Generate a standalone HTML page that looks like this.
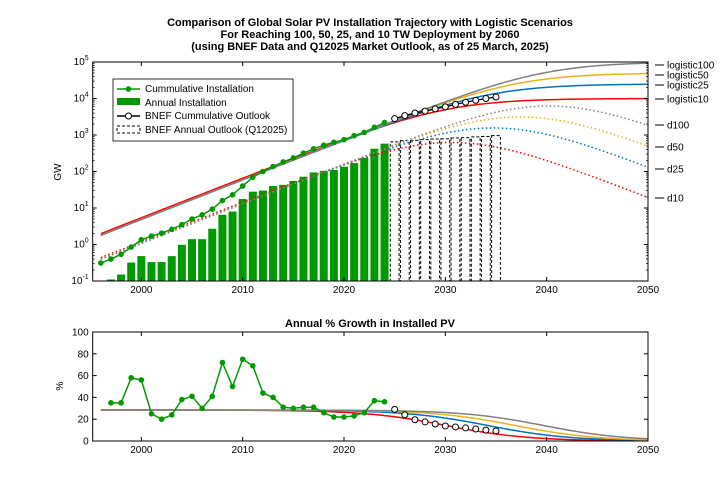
<!DOCTYPE html>
<html><head><meta charset="utf-8"><style>
body{margin:0;background:#fff;}
svg{display:block;font-family:"Liberation Sans",Arial,sans-serif;}
</style></head><body>
<svg id="chart" width="720" height="504" viewBox="0 0 720 504">
<g font-weight="bold" font-size="11" text-anchor="middle" fill="#000">
<text x="370" y="26">Comparison of Global Solar PV Installation Trajectory with Logistic Scenarios</text>
<text x="370" y="38">For Reaching 100, 50, 25, and 10 TW Deployment by 2060</text>
<text x="370" y="50">(using BNEF Data and Q12025 Market Outlook, as of 25 March, 2025)</text>
</g>
<g id="topG"></g>
<g id="botG"></g>
</svg>
<script>
const years = [1996,1997,1998,1999,2000,2001,2002,2003,2004,2005,2006,2007,2008,2009,2010,2011,2012,2013,2014,2015,2016,2017,2018,2019,2020,2021,2022,2023,2024];
const cumulative = [0.31,0.4,0.54,0.85,1.35,1.7,2.05,2.6,3.5,5,6.5,9.3,16,23,40,70,100,137,183,235,318,418,525,633,745,960,1180,1620,2190];
const barYears = [1997,1998,1999,2000,2001,2002,2003,2004,2005,2006,2007,2008,2009,2010,2011,2012,2013,2014,2015,2016,2017,2018,2019,2020,2021,2022,2023,2024];
const annual = [0.11,0.15,0.32,0.48,0.33,0.33,0.48,0.98,1.4,1.4,2.7,6.5,8,17.6,28,30,40,43,55,72,94,104,110,135,170,235,420,580];
const outYears = [2025,2026,2027,2028,2029,2030,2031,2032,2033,2034,2035];
const outCumulative = [2800,3400,4000,4500,5200,5900,6900,7900,8900,10000,11000];
const outAnnual = [650,700,710,745,775,790,830,850,890,910,960];
const growthYears = [1997,1998,1999,2000,2001,2002,2003,2004,2005,2006,2007,2008,2009,2010,2011,2012,2013,2014,2015,2016,2017,2018,2019,2020,2021,2022,2023,2024];
const growth = [35,35,58,56,25,20,24,38,41,30,41,72,50,75,69,44,40,31,30,31,31,26,22,22,23,26,37,36];
const outGrowth = [29,24,19.5,17.5,15.6,13.8,12.9,12,11,10,9.2];
const scenarioNames = ["logistic10","logistic25","logistic50","logistic100"];
const derivNames = ["d10","d25","d50","d100"];
const scenarioK = [10000,25000,50000,100000];
const scenarioT0 = [2030.1,2034.2,2036.9,2039.7];
const scenarioR = [0.25,0.25,0.25,0.25];
const scenarioColors = ["#ff0000","#0072bd","#edb120","#808080"];
const xTicks = [2000,2010,2020,2030,2040,2050];
const yExp = [-1,0,1,2,3,4,5];
const growthTicks = [0,20,40,60,80,100];

const NS="http://www.w3.org/2000/svg";
function mk(parent,tag,attrs){const e=document.createElementNS(NS,tag);for(const k in attrs)e.setAttribute(k,attrs[k]);parent.appendChild(e);return e;}
const L=92.7,R=648,T1=62,B1=281,T2=332,B2=441,X0=1995.2,X1=2050;
const xs=v=>L+(v-X0)/(X1-X0)*(R-L);
const ys=v=>B1-(Math.log10(v)+1)/6*(B1-T1);
const yg=v=>B2-v/100*(B2-T2);
function logi(i,t){return scenarioK[i]/(1+Math.exp(-scenarioR[i]*(t-scenarioT0[i])));}
const topG=document.getElementById('topG'), botG=document.getElementById('botG');
const ts=[];for(let t=1996;t<=2050.001;t+=0.25)ts.push(t);

const defs=mk(topG,'defs',{});
const cp=mk(defs,'clipPath',{id:'c1'});mk(cp,'rect',{x:L,y:T1,width:R-L,height:B1-T1});
const cp2=mk(defs,'clipPath',{id:'c2'});mk(cp2,'rect',{x:L,y:T2,width:R-L,height:B2-T2});
const g1=mk(topG,'g',{'clip-path':'url(#c1)'});



annual.forEach((v,i)=>{const x=xs(barYears[i]);
 const b=mk(g1,'rect',{x:x-4,y:ys(v),width:8,height:B1-ys(v),fill:'#009900'});
 
 });
outAnnual.forEach((v,i)=>{const x=xs(outYears[i]);
 const b=mk(g1,'rect',{x:x-4.4,y:ys(v),width:8.8,height:B1-ys(v)+2,fill:'none',stroke:'#000','stroke-width':1,'stroke-dasharray':'3,2'});
 
 });
for(let i=0;i<4;i++){
 const p=ts.map((t,j)=>(j?'L':'M')+xs(t).toFixed(2)+','+ys(logi(i,t)).toFixed(2)).join('');
 const l=mk(g1,'path',{d:p,fill:'none',stroke:scenarioColors[i],'stroke-width':1.5});
 
 
 const pd=ts.map((t,j)=>{const dv=logi(i,t)-logi(i,t-1);return (j?'L':'M')+xs(t).toFixed(2)+','+ys(dv).toFixed(2);}).join('');
 const d=mk(g1,'path',{d:pd,fill:'none',stroke:scenarioColors[i],'stroke-width':1.5,'stroke-dasharray':'1.5,2.5'});
 
 
}
const cl=mk(g1,'path',{d:cumulative.map((v,i)=>(i?'L':'M')+xs(years[i])+','+ys(v)).join(''),fill:'none',stroke:'#009900','stroke-width':1.5});


cumulative.forEach((v,i)=>{const c=mk(g1,'circle',{cx:xs(years[i]),cy:ys(v),r:2.8,fill:'#009900'});
 
 });
const ol=mk(g1,'path',{d:outCumulative.map((v,i)=>(i?'L':'M')+xs(outYears[i])+','+ys(v)).join(''),fill:'none',stroke:'#000','stroke-width':1.3});


outCumulative.forEach((v,i)=>{const c=mk(g1,'circle',{cx:xs(outYears[i]),cy:ys(v),r:3,fill:'#fff',stroke:'#000','stroke-width':1});
 
 });

function frame(parent,t,b,name){const f=mk(parent,'rect',{x:L,y:t,width:R-L,height:b-t,fill:'none',stroke:'#000','stroke-width':1});
 
 }
frame(topG,T1,B1,'top-axes-frame');
const ax1=mk(topG,'g',{'font-size':'10',fill:'#000'});


xTicks.forEach(v=>{const x=xs(v);mk(ax1,'line',{x1:x,x2:x,y1:B1,y2:B1-4,stroke:'#000'});mk(ax1,'line',{x1:x,x2:x,y1:T1,y2:T1+4,stroke:'#000'});
 const tx=mk(ax1,'text',{x:x,y:B1+12,'text-anchor':'middle'});tx.textContent=v;
 
 });
yExp.forEach(e=>{const y=ys(Math.pow(10,e));
 mk(ax1,'line',{x1:L,x2:L+4,y1:y,y2:y,stroke:'#000'});mk(ax1,'line',{x1:R,x2:R-4,y1:y,y2:y,stroke:'#000'});
 if(e<5)for(let m=2;m<10;m++){const ym=ys(m*Math.pow(10,e));mk(ax1,'line',{x1:L,x2:L+2,y1:ym,y2:ym,stroke:'#000','stroke-width':0.7});mk(ax1,'line',{x1:R,x2:R-2,y1:ym,y2:ym,stroke:'#000','stroke-width':0.7});}
 const tx=mk(ax1,'text',{x:L-4,y:y+3,'text-anchor':'end'});
 
 
 const a=mk(tx,'tspan',{});a.textContent='10';const s=mk(tx,'tspan',{dy:-5,'font-size':'7'});s.textContent=String(e);});
const yl=mk(ax1,'text',{x:0,y:0,transform:'translate(61,172) rotate(-90)','text-anchor':'middle'});yl.textContent='GW';


const rLabels=[["logistic100",65],["logistic50",75],["logistic25",85],["logistic10",99],["d100",125],["d50",147],["d25",169],["d10",198]];
rLabels.forEach(([n,y])=>{mk(ax1,'line',{x1:655,x2:664,y1:y,y2:y,stroke:'#000'});
 const tx=mk(ax1,'text',{x:667,y:y+3.5});tx.textContent=n;
 
 });
const lg=mk(topG,'g',{'font-size':'10'});


mk(lg,'rect',{x:113,y:79,width:180,height:62,fill:'#fff',stroke:'#000','stroke-width':0.8});
mk(lg,'line',{x1:117,x2:140,y1:89,y2:89,stroke:'#009900','stroke-width':1.5});mk(lg,'circle',{cx:128.5,cy:89,r:2.8,fill:'#009900'});
mk(lg,'rect',{x:117,y:98,width:23,height:7,fill:'#009900'});
mk(lg,'line',{x1:117,x2:140,y1:116,y2:116,stroke:'#000','stroke-width':1.5});mk(lg,'circle',{cx:128.5,cy:116,r:3,fill:'#fff',stroke:'#000'});
mk(lg,'rect',{x:117,y:126,width:23,height:7,fill:'none',stroke:'#000','stroke-dasharray':'3,2'});
[["Cummulative Installation",92],["Annual Installation",106],["BNEF Cummulative Outlook",119],["BNEF Annual Outlook (Q12025)",133]].forEach(([t,y],i)=>{
 const tx=mk(lg,'text',{x:145,y:y});tx.textContent=t;
 
 });

const bt=mk(botG,'text',{x:370,y:327,'text-anchor':'middle','font-weight':'bold','font-size':'11'});bt.textContent='Annual % Growth in Installed PV';


const g2=mk(botG,'g',{'clip-path':'url(#c2)'});


for(let i=0;i<4;i++){
 const p=ts.map((t,j)=>{const gv=100*(logi(i,t)/logi(i,t-1)-1);return (j?'L':'M')+xs(t).toFixed(2)+','+yg(gv).toFixed(2);}).join('');
 const l=mk(g2,'path',{d:p,fill:'none',stroke:scenarioColors[i],'stroke-width':1.5});
 
 
}
const gl=mk(g2,'path',{d:growth.map((v,i)=>(i?'L':'M')+xs(growthYears[i])+','+yg(v)).join(''),fill:'none',stroke:'#009900','stroke-width':1.5});


growth.forEach((v,i)=>{const c=mk(g2,'circle',{cx:xs(growthYears[i]),cy:yg(v),r:2.8,fill:'#009900'});
 
 });
outGrowth.forEach((v,i)=>{const c=mk(g2,'circle',{cx:xs(outYears[i]),cy:yg(v),r:3,fill:'#fff',stroke:'#000','stroke-width':1});
 
 });
frame(botG,T2,B2,'bottom-axes-frame');
const ax2=mk(botG,'g',{'font-size':'10'});


xTicks.forEach(v=>{const x=xs(v);mk(ax2,'line',{x1:x,x2:x,y1:B2,y2:B2-4,stroke:'#000'});mk(ax2,'line',{x1:x,x2:x,y1:T2,y2:T2+4,stroke:'#000'});
 const tx=mk(ax2,'text',{x:x,y:B2+12,'text-anchor':'middle'});tx.textContent=v;
 
 });
growthTicks.forEach(v=>{const y=yg(v);mk(ax2,'line',{x1:L,x2:L+4,y1:y,y2:y,stroke:'#000'});mk(ax2,'line',{x1:R,x2:R-4,y1:y,y2:y,stroke:'#000'});
 const tx=mk(ax2,'text',{x:L-4,y:y+3.5,'text-anchor':'end'});tx.textContent=v;
 
 });
const yl2=mk(ax2,'text',{x:0,y:0,transform:'translate(63,386) rotate(-90)','text-anchor':'middle'});yl2.textContent='%';


</script>
</body></html>
